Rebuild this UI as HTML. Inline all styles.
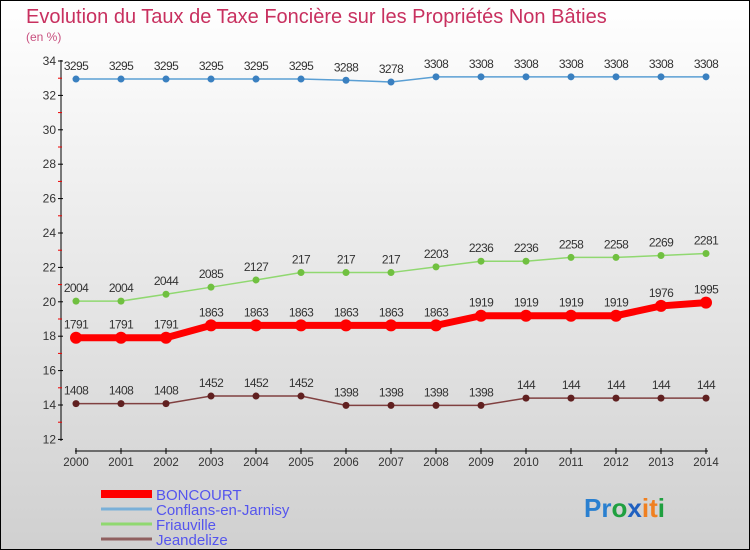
<!DOCTYPE html>
<html><head><meta charset="utf-8"><style>
body{margin:0}
#c{width:748px;height:548px;border:1px solid #000;background:linear-gradient(#fff,#d0d0d0);position:relative;font-family:"Liberation Sans",sans-serif;overflow:hidden}
</style></head><body>
<div id="c">
<svg id="s" width="748" height="548" xmlns="http://www.w3.org/2000/svg"></svg>
</div>
<script>
const years=["2000","2001","2002","2003","2004","2005","2006","2007","2008","2009","2010","2011","2012","2013","2014"];
const boncourt=[17.91,17.91,17.91,18.63,18.63,18.63,18.63,18.63,18.63,19.19,19.19,19.19,19.19,19.76,19.95];
const conflans=[32.95,32.95,32.95,32.95,32.95,32.95,32.88,32.78,33.08,33.08,33.08,33.08,33.08,33.08,33.08];
const friauville=[20.04,20.04,20.44,20.85,21.27,21.7,21.7,21.7,22.03,22.36,22.36,22.58,22.58,22.69,22.81];
const jeandelize=[14.08,14.08,14.08,14.52,14.52,14.52,13.98,13.98,13.98,13.98,14.4,14.4,14.4,14.4,14.4];
const yTicks=[12,14,16,18,20,22,24,26,28,30,32,34];
const seriesNames=["BONCOURT","Conflans-en-Jarnisy","Friauville","Jeandelize"];
const NS="http://www.w3.org/2000/svg";
const s=document.getElementById('s');
function X(i){return 75+i*(705-75)/14;}
function Y(v){return 60+(34-v)*17.2;}
function el(t,a,p){const e=document.createElementNS(NS,t);for(const k in a)e.setAttribute(k,a[k]);(p||s).appendChild(e);return e;}
let t=el('text',{x:25,y:22,'font-size':20,fill:'#c8305f'});t.textContent="Evolution du Taux de Taxe Foncière sur les Propriétés Non Bâties";

t=el('text',{x:25,y:40,'font-size':12,fill:'#c8507f'});t.textContent="(en %)";

let a=el('line',{x1:60,y1:59,x2:60,y2:440,stroke:'#000'});
a=el('line',{x1:74,y1:450,x2:707,y2:450,stroke:'#000'});
yTicks.forEach(v=>{el('line',{x1:57,y1:Y(v),x2:62,y2:Y(v),stroke:'#000'});
 if(v<34) el('line',{x1:57,y1:Y(v+1),x2:61,y2:Y(v+1),stroke:'#e00'});
 const l=el('text',{x:55,y:Y(v)+4,'font-size':12,fill:'#333','text-anchor':'end'});l.textContent=v;
 });
years.forEach((y,i)=>{el('line',{x1:X(i),y1:447,x2:X(i),y2:453,stroke:'#000'});
 const l=el('text',{x:X(i),y:465,'font-size':11.5,fill:'#333','text-anchor':'middle'});l.textContent=y;
 });
function series(d,col,w,r,dot,name){
 const g=el('g',{});
 el('polyline',{points:d.map((v,i)=>X(i)+','+Y(v)).join(' '),fill:'none',stroke:col,'stroke-width':w},g);
 d.forEach((v,i)=>{const c=el('circle',{cx:X(i),cy:Y(v),r:r,fill:dot},g);
  const l=el('text',{x:X(i),y:Y(v)-9,'font-size':12,fill:'#333','text-anchor':'middle','letter-spacing':'-0.6'},g);l.textContent=String(v).replace('.','');
  });
}
series(conflans,'#5a9fd4',1.5,3.5,'#3a80c0','conflans-series');
series(friauville,'#90d870',1.5,3.5,'#70c040','friauville-series');
series(jeandelize,'#804040',1.5,3.5,'#602020','jeandelize-series');
series(boncourt,'#f00',7,6,'#f00','boncourt-series');
const lc=['#f00','#7ab0d8','#90d870','#906060'],lw=[8,3,3,3];
seriesNames.forEach((n,i)=>{const y=493+i*15;
 const g=el('g',{});
 el('line',{x1:100,y1:y,x2:151,y2:y,stroke:lc[i],'stroke-width':lw[i]},g);
 const l=el('text',{x:155,y:y+6,'font-size':15,fill:'#5555ee'},g);l.textContent=n;});
const p=el('text',{x:583,y:516,'font-size':26,'font-weight':'bold'});
[['P','#2a80d0'],['r','#2a80d0'],['o','#20a040'],['x','#2060c0'],['i','#f08020'],['t','#f08020'],['i','#20a040']].forEach(([c,f])=>{const ts=el('tspan',{fill:f},p);ts.textContent=c;});
</script>
</body></html>
